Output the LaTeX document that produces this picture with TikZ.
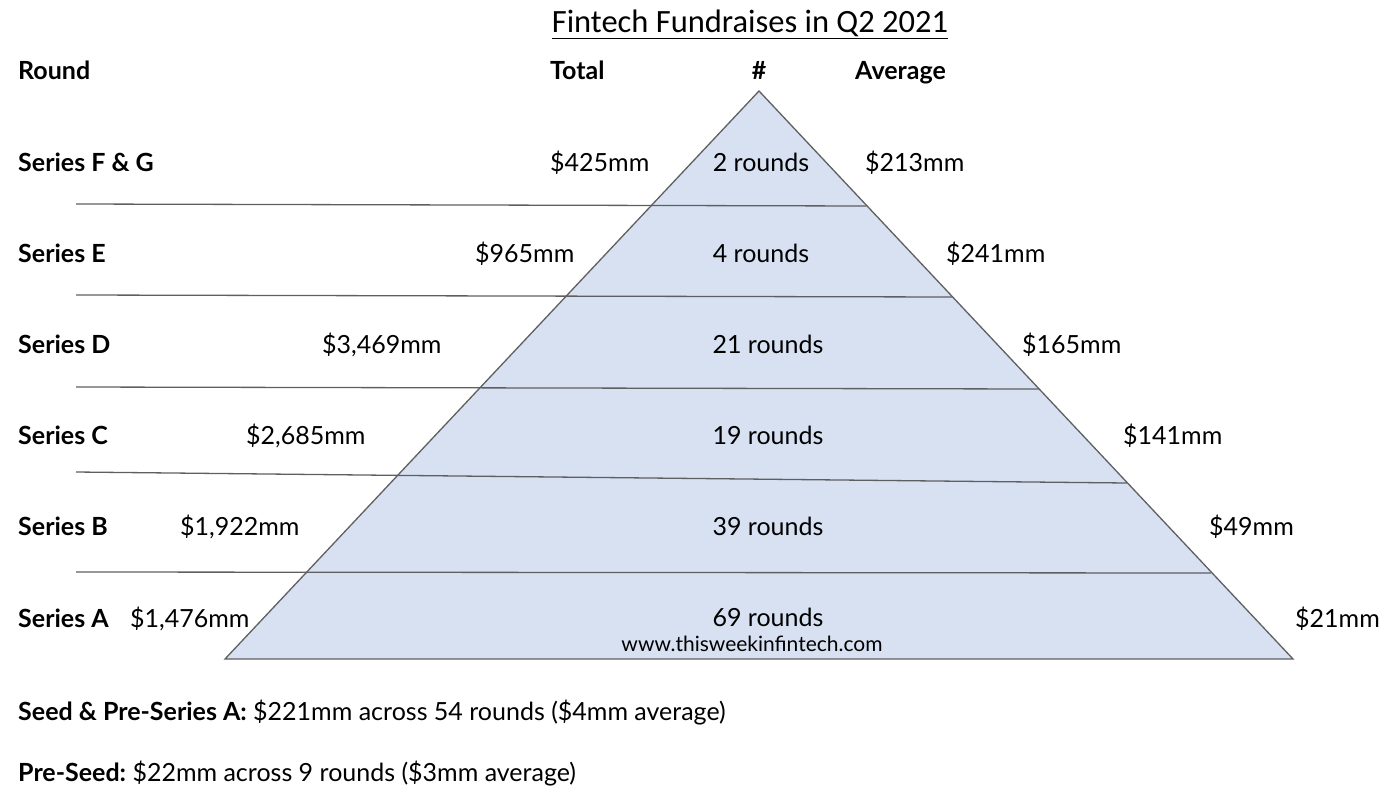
\documentclass[tikz,border=0pt]{standalone}
\usepackage{fontspec}
\setmainfont{Lato}
\newfontfamily\titlefont{Carlito}
\usepackage{xcolor}
\usetikzlibrary{positioning,calc}
\frenchspacing
\definecolor{pyrfill}{HTML}{D7E1F2}
\definecolor{pyrline}{HTML}{5F5F5F}
\tikzset{lbl/.style={inner sep=0pt, anchor=base west, font=\fontsize{25}{30}\selectfont},
	hdr/.style={lbl, font=\fontsize{25}{30}\selectfont\bfseries},
	cnt/.style={lbl, anchor=base},
	tier/.style={pyrline, line width=1.3pt}}

\begin{document}
\begin{tikzpicture}[x=1pt,y=-1pt]
	\useasboundingbox (0,0) rectangle (1396,798);
	% title and column heads
	\node[inner sep=0pt, anchor=base, font=\titlefont\fontsize{32.5}{38}\selectfont] (title) at (750,32) {\underline{Fintech Fundraises in Q2 2021}};
	\node[hdr] (hround) at (18,79) {Round};
	\node[hdr] (htotal) at (550,79) {Total};
	\node[hdr, anchor=base] (hnum) at (759,79) {\#};
	\node[hdr] (havg) at (855,79) {Average};
	% pyramid
	\coordinate (apex) at (759,91);
	\coordinate (bl) at (225,659);
	\coordinate (br) at (1293,659);
	\draw[tier, fill=pyrfill, line join=miter] (apex) -- (br) -- (bl) -- cycle;
	% tier lines
	\coordinate (t1a) at (76,204);  \coordinate (t1b) at (866,206);
	\coordinate (t2a) at (76,295);  \coordinate (t2b) at (952,297);
	\coordinate (t3a) at (76,387);  \coordinate (t3b) at (1039,389);
	\coordinate (t4a) at (76,472);  \coordinate (t4b) at (1127,483);
	\coordinate (t5a) at (76,572);  \coordinate (t5b) at (1211,573);
	\foreach \i in {1,...,5}
		\draw[tier] (t\i a) -- (t\i b);
	% rows
	\node[hdr] (sfg) at (18,171) {Series F \& G};
	\node[hdr] (se) at (18,262) {Series E};
	\node[hdr] (sd) at (18,353) {Series D};
	\node[hdr] (sc) at (18,444) {Series C};
	\node[hdr] (sb) at (18,535) {Series B};
	\node[hdr] (sa) at (18,627) {Series A};
	\node[lbl] (totfg) at (550,171) {\$425mm};
	\node[lbl] (tote) at (475,262) {\$965mm};
	\node[lbl] (totd) at (322,353) {\$3,469mm};
	\node[lbl] (totc) at (246,444) {\$2,685mm};
	\node[lbl] (totb) at (180,535) {\$1,922mm};
	\node[lbl] (tota) at (130,627) {\$1,476mm};
	\node[cnt] (nfg) at (761,171) {2 rounds};
	\node[cnt] (ne) at (761,262) {4 rounds};
	\node[cnt] (nd) at (768,353) {21 rounds};
	\node[cnt] (nc) at (768,444) {19 rounds};
	\node[cnt] (nb) at (768,535) {39 rounds};
	\node[cnt] (na) at (768,626) {69 rounds};
	\node[lbl] (avgfg) at (865,171) {\$213mm};
	\node[lbl] (avge) at (946,262) {\$241mm};
	\node[lbl] (avgd) at (1022,353) {\$165mm};
	\node[lbl] (avgc) at (1123,444) {\$141mm};
	\node[lbl] (avgb) at (1209,535) {\$49mm};
	\node[lbl] (avga) at (1295,627) {\$21mm};
	\node[cnt, font=\fontsize{21}{25}\selectfont] (site) at (752,651) {www.thisweekinfintech.com};
	% early rounds
	\node[lbl] (seed) at (18,720) {\textbf{Seed \& Pre-Series A:} \$221mm across 54 rounds (\$4mm average)};
	\node[lbl] (preseed) at (18,781) {\textbf{Pre-Seed:} \$22mm across 9 rounds (\$3mm average)};
\end{tikzpicture}
\end{document}
